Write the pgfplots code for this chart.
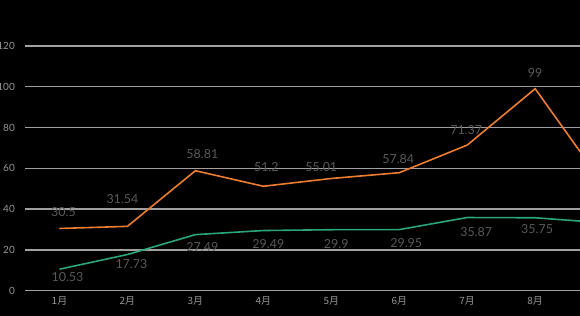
\documentclass[border=0pt]{standalone}
\usepackage{fontspec}
\setmainfont{Lato}
\newfontfamily\cjk{Noto Sans CJK SC}
\usepackage{pgfplots}
\usepackage{pgfplotstable}
\pgfplotsset{compat=1.18}
\definecolor{orangeL}{RGB}{237,125,49}
\definecolor{greenL}{RGB}{43,166,122}
\definecolor{gridc}{RGB}{160,160,160}
\definecolor{lblc}{RGB}{89,89,89}
\definecolor{tickc}{RGB}{150,150,150}

\pgfplotstableread{
x y dx dy label
1 30.5 4 16 30.5
2 31.54 -5 27 31.54
3 58.81 7 17 58.81
4 51.2 3 19 51.2
5 55.01 -10 11 55.01
6 57.84 -1 14 57.84
7 71.37 -1 15 71.37
8 99 0 16 99
9 52.4 0 16 52.4
}\orangetab

\pgfplotstableread{
x y dx dy label
1 10.53 8 -7.5 10.53
2 17.73 4 -10 17.73
3 27.49 7 -12 27.49
4 29.49 5 -13 29.49
5 29.9 5 -14 29.9
6 29.95 7 -13 29.95
7 35.87 9 -15 35.87
8 35.75 2 -11 35.75
9 33.3 0 -12 33.3
}\greentab

\begin{document}
\begin{tikzpicture}
\useasboundingbox (0,0) rectangle (580bp,316bp);
\clip (0,0) rectangle (580bp,316bp);
\fill[black] (0,0) rectangle (580bp,316bp);
\begin{axis}[
  at={(25.5bp,25.3bp)}, anchor=south west,
  scale only axis, width=554.5bp, height=244.8bp,
  xmin=0.5, xmax=8.66, ymin=0, ymax=120,
  ytick={0,20,...,120},
  xtick={1,2,3,4,5,6,7,8,9},
  xticklabels={1月,2月,3月,4月,5月,6月,7月,8月,9月},
  axis line style={draw=none},
  major tick length=0pt,
  ymajorgrids,
  grid style={gridc, line width=1.4bp},
  /pgf/number format/assume math mode=true,
  yticklabel style={text=tickc, font=\fontsize{10}{12}\selectfont, inner sep=0pt, anchor=east, xshift=-10.5bp},
  xticklabel style={text=tickc, font=\cjk\fontsize{10}{12}\selectfont, anchor=center, yshift=-10.5bp, inner sep=0pt},
]
\addplot[orangeL, line width=1.6bp, mark=none,
  nodes near coords, point meta=explicit symbolic,
  visualization depends on={\thisrow{dx}\as\lblx},
  visualization depends on={\thisrow{dy}\as\lbly},
  every node near coord/.append style={anchor=center, inner sep=0pt, xshift=\lblx bp, yshift=\lbly bp, font=\fontsize{12.5}{14}\selectfont, text=lblc}]
  table[x=x,y=y,meta=label] {\orangetab};
\addplot[greenL, line width=1.6bp, mark=none,
  nodes near coords, point meta=explicit symbolic,
  visualization depends on={\thisrow{dx}\as\lblx},
  visualization depends on={\thisrow{dy}\as\lbly},
  every node near coord/.append style={anchor=center, inner sep=0pt, xshift=\lblx bp, yshift=\lbly bp, font=\fontsize{12.5}{14}\selectfont, text=lblc}]
  table[x=x,y=y,meta=label] {\greentab};
\end{axis}
\end{tikzpicture}
\end{document}
